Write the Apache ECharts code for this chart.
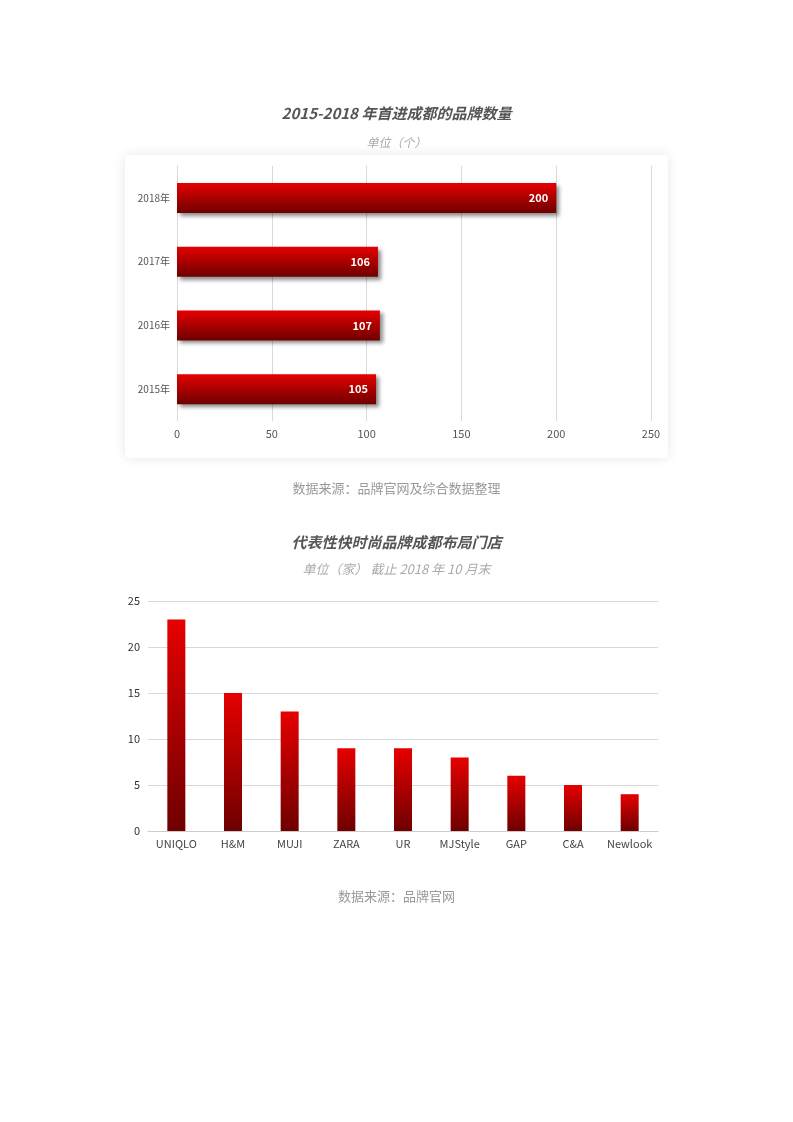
<!DOCTYPE html>
<html><head><meta charset="utf-8">
<script src="https://cdn.jsdelivr.net/npm/echarts@6/dist/echarts.min.js"></script>
<style>html,body{margin:0;padding:0;background:#fff;}#c{width:793px;height:1122px;}</style>
</head><body><div id="c"></div>
<script>
var yearCats = ['2015年','2016年','2017年','2018年'];
var yearVals = [105, 107, 106, 200];
var brandCats = ['UNIQLO','H&M','MUJI','ZARA','UR','MJStyle','GAP','C&A','Newlook'];
var brandVals = [23, 15, 13, 9, 9, 8, 6, 5, 4];
var xTicks1 = [0, 50, 100, 150, 200, 250];
var yTicks2 = [0, 5, 10, 15, 20, 25];

var font = '"Noto Sans CJK SC", "Noto Sans", sans-serif';
function grad(){
  return new echarts.graphic.LinearGradient(0,0,0,1,[{offset:0,color:'#e60000'},{offset:1,color:'#6e0000'}]);
}
var chart = echarts.init(document.getElementById('c'));
chart.setOption({
  animation:false,
  textStyle:{fontFamily:font},
  graphic:[{type:'rect',z:-10,shape:{x:125,y:155,width:543,height:303,r:4},
    style:{fill:'#fff',shadowBlur:12,shadowColor:'rgba(0,0,0,0.10)'}}],
  title:[
    {text:'2015-2018 年首进成都的品牌数量',left:'center',top:101,textStyle:{fontSize:15,fontStyle:'italic',fontWeight:'bold',color:'#555',fontFamily:font}},
    {text:'单位（个）',left:'center',top:131,textStyle:{fontSize:12,fontStyle:'italic',fontWeight:'normal',color:'#aaa',fontFamily:font}},
    {text:'数据来源：品牌官网及综合数据整理',left:'center',top:477,textStyle:{fontSize:13,fontWeight:'normal',color:'#999',fontFamily:font}},
    {text:'代表性快时尚品牌成都布局门店',left:'center',top:530,textStyle:{fontSize:15,fontStyle:'italic',fontWeight:'bold',color:'#555',fontFamily:font}},
    {text:'单位（家） 截止 2018 年 10 月末',left:'center',top:558,textStyle:{fontSize:13,fontStyle:'italic',fontWeight:'normal',color:'#aaa',fontFamily:font}},
    {text:'数据来源：品牌官网',left:'center',top:885,textStyle:{fontSize:13,fontWeight:'normal',color:'#999',fontFamily:font}}
  ],
  grid:[
    {left:177,width:474,top:166,height:255},
    {left:148,width:510,top:601,height:230}
  ],
  xAxis:[
    {type:'value',gridIndex:0,min:xTicks1[0],max:xTicks1[xTicks1.length-1],interval:50,
     axisLine:{show:false},axisTick:{show:false},
     axisLabel:{color:'#555',fontSize:11,margin:7},
     splitLine:{lineStyle:{color:'#d9d9d9'}}},
    {type:'category',gridIndex:1,data:brandCats,
     axisLine:{lineStyle:{color:'#ccc'}},axisTick:{lineStyle:{color:'#ccc'},length:4},
     axisLabel:{color:'#444',fontSize:11,margin:7,interval:0}}
  ],
  yAxis:[
    {type:'category',gridIndex:0,data:yearCats,
     axisLine:{show:false},axisTick:{show:false},
     axisLabel:{color:'#555',fontSize:10,margin:7}},
    {type:'value',gridIndex:1,min:yTicks2[0],max:yTicks2[yTicks2.length-1],interval:5,
     axisLine:{show:false},axisTick:{show:false},
     axisLabel:{color:'#333',fontSize:11,margin:8},
     splitLine:{lineStyle:{color:'#d9d9d9'}}}
  ],
  series:[
    {type:'bar',xAxisIndex:0,yAxisIndex:0,data:yearVals,barWidth:30,
     itemStyle:{color:grad(),shadowColor:'rgba(0,0,0,0.45)',shadowBlur:4,shadowOffsetX:3,shadowOffsetY:3},
     label:{show:true,position:'insideRight',color:'#fff',fontWeight:'bold',fontSize:11,distance:8}},
    {type:'bar',xAxisIndex:1,yAxisIndex:1,data:brandVals,barWidth:18,
     itemStyle:{color:grad()}}
  ]
});
</script></body></html>
